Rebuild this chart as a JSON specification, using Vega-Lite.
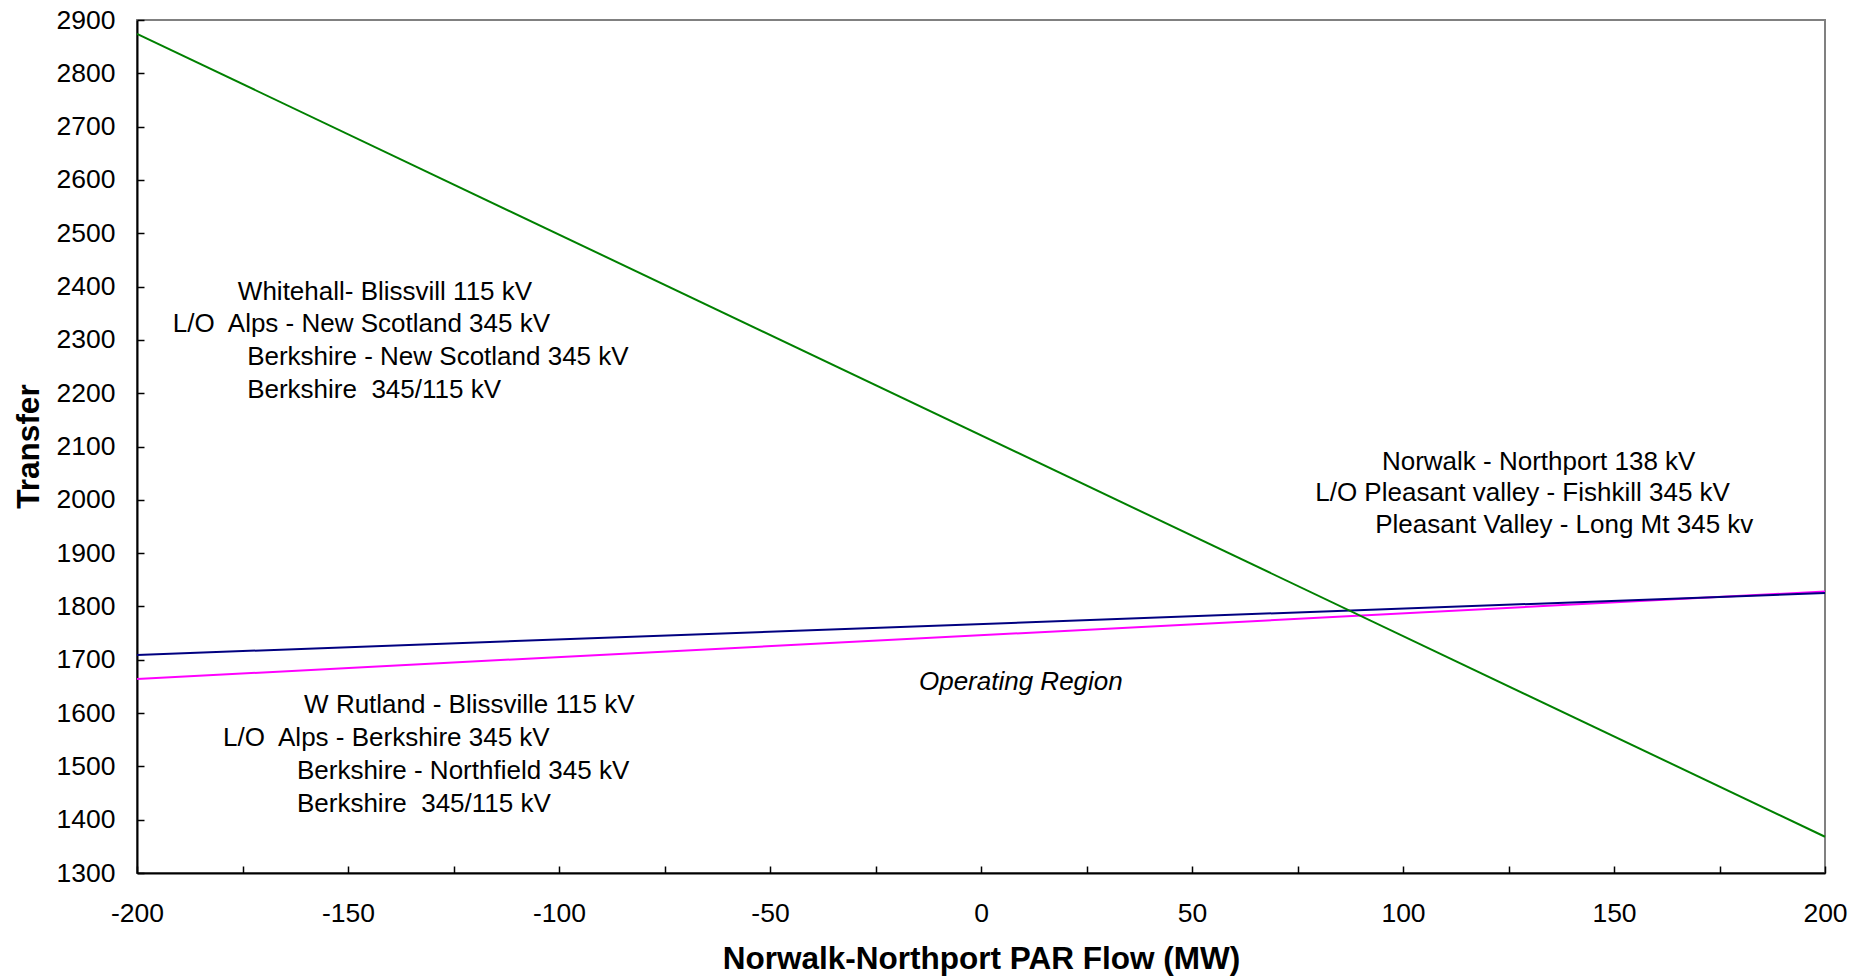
{
  "$schema": "https://vega.github.io/schema/vega-lite/v6.json",
  "width": 1688,
  "height": 853,
  "autosize": "none",
  "padding": {"left": 137, "top": 20, "right": 43, "bottom": 106},
  "background": "white",
  "config": {
    "font": "Liberation Sans",
    "view": {"stroke": "#808080", "strokeWidth": 2},
    "axis": {
      "grid": false,
      "domainColor": "black",
      "domainWidth": 2,
      "tickColor": "black",
      "tickWidth": 1.5,
      "tickSize": -7,
      "labelFont": "Liberation Sans",
      "labelFontSize": 26.5,
      "labelColor": "black",
      "labelFlush": false,
      "labelOverlap": false,
      "labelBound": false,
      "titleFont": "Liberation Sans",
      "titleFontSize": 31.5,
      "titleFontWeight": "bold",
      "titleColor": "black"
    }
  },
  "datasets": {
    "lines": [
      {"series": "W Rutland - Blissville", "flow": -200, "transfer": 1664},
      {"series": "W Rutland - Blissville", "flow": 200, "transfer": 1828},
      {"series": "Norwalk - Northport", "flow": -200, "transfer": 1709},
      {"series": "Norwalk - Northport", "flow": 200, "transfer": 1825},
      {"series": "Whitehall - Blissvill", "flow": -200, "transfer": 2874},
      {"series": "Whitehall - Blissvill", "flow": 200, "transfer": 1368}
    ],
    "notes": [
      {"flow": -176.1, "transfer": 2390, "label": "Whitehall- Blissvill 115 kV"},
      {"flow": -191.5, "transfer": 2330, "label": "L/O\u00a0 Alps - New Scotland 345 kV"},
      {"flow": -173.9, "transfer": 2268, "label": "Berkshire - New Scotland 345 kV"},
      {"flow": -173.9, "transfer": 2206, "label": "Berkshire\u00a0 345/115 kV"},
      {"flow": -160.4, "transfer": 1615, "label": "W Rutland - Blissville 115 kV"},
      {"flow": -179.6, "transfer": 1553, "label": "L/O\u00a0 Alps - Berkshire 345 kV"},
      {"flow": -162.1, "transfer": 1491, "label": "Berkshire - Northfield 345 kV"},
      {"flow": -162.1, "transfer": 1429, "label": "Berkshire\u00a0 345/115 kV"},
      {"flow": 95.0, "transfer": 2071, "label": "Norwalk - Northport 138 kV"},
      {"flow": 79.2, "transfer": 2013, "label": "L/O Pleasant valley - Fishkill 345 kV"},
      {"flow": 93.4, "transfer": 1953, "label": "Pleasant Valley - Long Mt 345 kv"}
    ],
    "region": [
      {"flow": -14.7, "transfer": 1658, "label": "Operating Region"}
    ]
  },
  "encoding": {
    "x": {
      "field": "flow",
      "type": "quantitative",
      "scale": {"domain": [-200, 200], "nice": false, "zero": false},
      "axis": {
        "title": "Norwalk-Northport PAR Flow (MW)",
        "values": [-200, -175, -150, -125, -100, -75, -50, -25, 0, 25, 50, 75, 100, 125, 150, 175, 200],
        "labelExpr": "datum.value % 50 === 0 ? toString(datum.value) : ''",
        "labelPadding": 34,
        "titleX": 844,
        "titleY": 95,
        "titleBaseline": "alphabetic",
        "titleAlign": "center"
      }
    },
    "y": {
      "field": "transfer",
      "type": "quantitative",
      "scale": {"domain": [1300, 2900], "nice": false, "zero": false},
      "axis": {
        "title": "Transfer",
        "values": [1300, 1400, 1500, 1600, 1700, 1800, 1900, 2000, 2100, 2200, 2300, 2400, 2500, 2600, 2700, 2800, 2900],
        "labelExpr": "toString(datum.value)",
        "labelPadding": 29,
        "titleX": -99,
        "titleY": 426,
        "titleAngle": -90,
        "titleBaseline": "alphabetic",
        "titleAlign": "center"
      }
    }
  },
  "layer": [
    {
      "data": {"name": "lines"},
      "mark": {"type": "line", "strokeWidth": 2},
      "encoding": {
        "color": {
          "field": "series",
          "type": "nominal",
          "scale": {
            "domain": ["W Rutland - Blissville", "Norwalk - Northport", "Whitehall - Blissvill"],
            "range": ["#FF00FF", "#000080", "#008000"]
          },
          "legend": null
        }
      }
    },
    {
      "data": {"name": "notes"},
      "mark": {"type": "text", "align": "left", "baseline": "middle", "fontSize": 26, "font": "Liberation Sans", "color": "black"},
      "encoding": {"text": {"field": "label"}}
    },
    {
      "data": {"name": "region"},
      "mark": {"type": "text", "align": "left", "baseline": "middle", "fontSize": 26, "font": "Liberation Sans", "fontStyle": "italic", "color": "black"},
      "encoding": {"text": {"field": "label"}}
    }
  ]
}
